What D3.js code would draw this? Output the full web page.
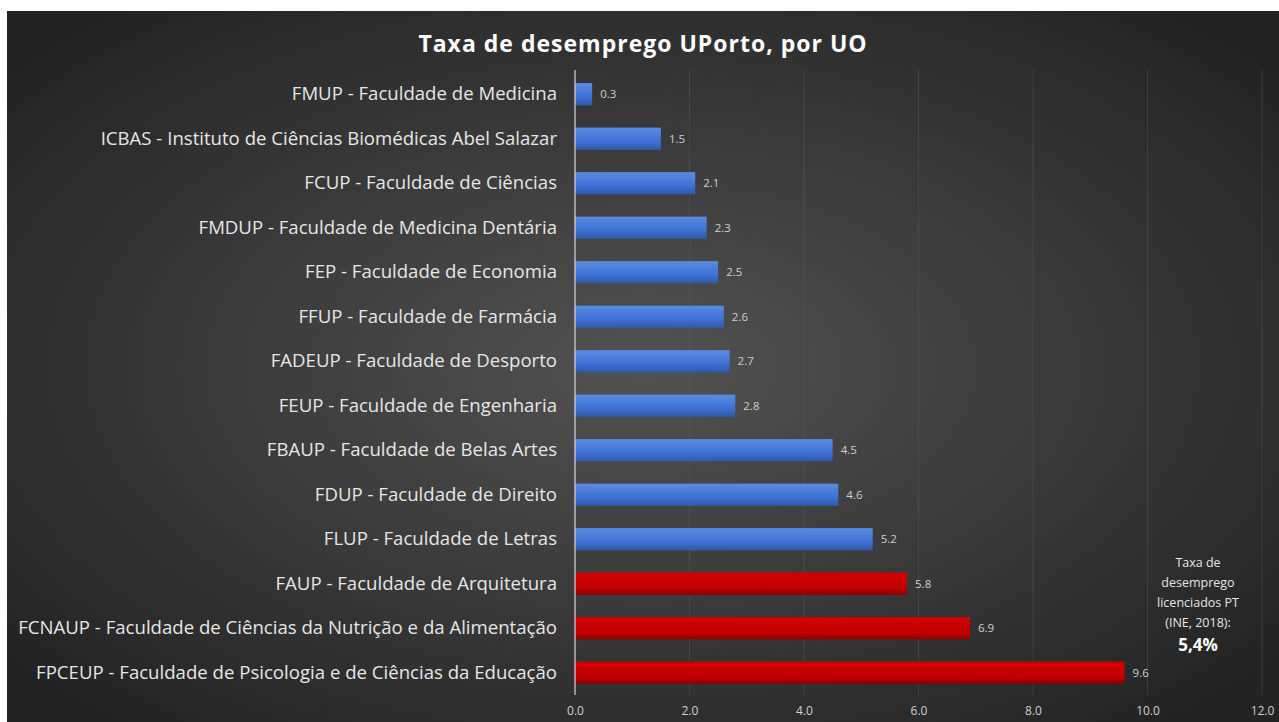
<!DOCTYPE html>
<html>
<head>
<meta charset="utf-8">
<script src="https://d3js.org/d3.v7.min.js"></script>
<style>
  body { margin: 0; background: #fff; }
  svg { display: block; }
</style>
</head>
<body>
<div id="chart"></div>
<script>
// data
const categories = [
  "FMUP - Faculdade de Medicina",
  "ICBAS - Instituto de Ciências Biomédicas Abel Salazar",
  "FCUP - Faculdade de Ciências",
  "FMDUP - Faculdade de Medicina Dentária",
  "FEP - Faculdade de Economia",
  "FFUP - Faculdade de Farmácia",
  "FADEUP - Faculdade de Desporto",
  "FEUP - Faculdade de Engenharia",
  "FBAUP - Faculdade de Belas Artes",
  "FDUP - Faculdade de Direito",
  "FLUP - Faculdade de Letras",
  "FAUP - Faculdade de Arquitetura",
  "FCNAUP - Faculdade de Ciências da Nutrição e da Alimentação",
  "FPCEUP - Faculdade de Psicologia e de Ciências da Educação"
];
const values = [0.3, 1.5, 2.1, 2.3, 2.5, 2.6, 2.7, 2.8, 4.5, 4.6, 5.2, 5.8, 6.9, 9.6];
const xTicks = [0, 2, 4, 6, 8, 10, 12];
const threshold = 5.4;  // national rate, bars above it are red
const noteLines = ["Taxa de", "desemprego", "licenciados PT", "(INE, 2018):"];
const noteValue = "5,4%";

const W = 1279, H = 722;
const panel = { x: 7, y: 11 };
const margin = { top: 72, left: 575, right: 17, bottom: 27 };

const svg = d3.select("#chart").append("svg")
  .attr("width", W).attr("height", H);

const defs = svg.append("defs");
const bg = defs.append("radialGradient").attr("id", "bg")
  .attr("cx", "50%").attr("cy", "50%").attr("r", "65%");
bg.append("stop").attr("offset", "0%").attr("stop-color", "#525252");
bg.append("stop").attr("offset", "100%").attr("stop-color", "#232323");

const blue = defs.append("linearGradient").attr("id", "blue")
  .attr("x1", 0).attr("x2", 0).attr("y1", 0).attr("y2", 1);
blue.append("stop").attr("offset", "0%").attr("stop-color", "#5b8be0");
blue.append("stop").attr("offset", "60%").attr("stop-color", "#3f72d6");
blue.append("stop").attr("offset", "100%").attr("stop-color", "#2f58a8");

const red = defs.append("linearGradient").attr("id", "red")
  .attr("x1", 0).attr("x2", 0).attr("y1", 0).attr("y2", 1);
red.append("stop").attr("offset", "0%").attr("stop-color", "#d40000");
red.append("stop").attr("offset", "70%").attr("stop-color", "#c00000");
red.append("stop").attr("offset", "100%").attr("stop-color", "#8a0000");

svg.append("rect")
  .attr("x", panel.x).attr("y", panel.y)
  .attr("width", W - panel.x).attr("height", H - panel.y)
  .attr("fill", "url(#bg)");

// title
svg.append("text")
  .attr("x", 643).attr("y", 52)
  .attr("text-anchor", "middle")
  .attr("fill", "#ffffff")
  .style("font-family", "'Open Sans', sans-serif")
  .style("font-weight", "bold")
  .style("font-size", "23px")
  .style("letter-spacing", "1px")
  .text("Taxa de desemprego UPorto, por UO");

const x = d3.scaleLinear().domain([0, 12]).range([margin.left, W - margin.right]);
const y = d3.scaleBand().domain(categories)
  .range([margin.top, H - margin.bottom]).paddingInner(0.5).paddingOuter(0.25);

// gridlines
svg.append("g").selectAll("line")
  .data(xTicks.slice(1))
  .join("line")
  .attr("x1", d => x(d)).attr("x2", d => x(d))
  .attr("y1", margin.top - 2).attr("y2", H - margin.bottom)
  .attr("stroke", "#6a6a6a").attr("stroke-opacity", 0.3).attr("stroke-width", 1);

// bars
svg.append("g").selectAll("rect")
  .data(categories)
  .join("rect")
  .attr("x", x(0))
  .attr("y", d => y(d))
  .attr("width", (d, i) => x(values[i]) - x(0))
  .attr("height", y.bandwidth())
  .attr("fill", (d, i) => values[i] > threshold ? "url(#red)" : "url(#blue)");

// value labels
svg.append("g").selectAll("text")
  .data(categories)
  .join("text")
  .attr("x", (d, i) => x(values[i]) + 8)
  .attr("y", d => y(d) + y.bandwidth() / 2 + 4)
  .attr("fill", "#d0d0d0")
  .style("font-family", "'Open Sans', sans-serif")
  .style("font-size", "11.5px")
  .text((d, i) => values[i].toFixed(1));

// category labels
svg.append("g").selectAll("text")
  .data(categories)
  .join("text")
  .attr("x", margin.left - 18)
  .attr("y", d => y(d) + y.bandwidth() / 2 + 6)
  .attr("text-anchor", "end")
  .attr("fill", "#e6e6e6")
  .style("font-family", "'Open Sans', sans-serif")
  .style("font-size", "18.6px")
  .text(d => d);

// axis line at zero
svg.append("line")
  .attr("x1", x(0)).attr("x2", x(0))
  .attr("y1", margin.top - 2).attr("y2", H - margin.bottom)
  .attr("stroke", "#d9d9d9").attr("stroke-width", 1.2);

// x tick labels
const xAxis = d3.axisBottom(x).tickValues(xTicks).tickSize(0).tickPadding(0)
  .tickFormat(d3.format(".1f"));
const gx = svg.append("g")
  .attr("transform", `translate(0,${H - margin.bottom + 11})`)
  .call(xAxis);
gx.select(".domain").remove();
gx.selectAll("text")
  .attr("fill", "#cfcfcf")
  .style("font-family", "'Open Sans', sans-serif")
  .style("font-size", "12px");

// annotation
const note = svg.append("g")
  .attr("text-anchor", "middle")
  .style("font-family", "'Open Sans', sans-serif");
note.selectAll("text.line")
  .data(noteLines)
  .join("text")
  .attr("class", "line")
  .attr("x", 1198)
  .attr("y", (d, i) => 567 + i * 20)
  .attr("fill", "#e6e6e6")
  .style("font-size", "12.5px")
  .text(d => d);
note.append("text")
  .attr("x", 1198).attr("y", 651)
  .attr("fill", "#ffffff")
  .style("font-size", "17px")
  .style("font-weight", "bold")
  .text(noteValue);
</script>
</body>
</html>
